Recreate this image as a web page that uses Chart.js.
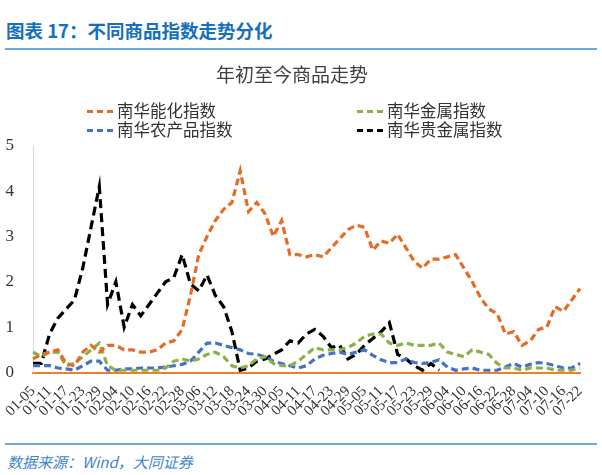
<!DOCTYPE html>
<html>
<head>
<meta charset="utf-8">
<script src="https://cdn.jsdelivr.net/npm/chart.js"></script>
<style>
  body { margin: 0; background: #fff; width: 602px; height: 475px; position: relative; overflow: hidden; }
  .head { position: absolute; left: 6px; top: 17px; font: bold 18.5px "Noto Sans CJK SC", sans-serif; color: #1670bd; }
  .rule { position: absolute; left: 5px; width: 592px; height: 2px; background: #6fa8dc; }
  .foot { position: absolute; left: 7px; top: 451px; font: italic 15px "Noto Sans CJK SC", sans-serif; color: #3f86c8; }
  #wrap { position: absolute; left: 0; top: 55px; width: 602px; height: 375px; }
  .lg { position: absolute; font: 16.5px "Noto Sans CJK SC", sans-serif; color: #333; line-height: 19px; }
  .lg i { display: inline-block; width: 26px; height: 0; border-top: 3px dashed; vertical-align: middle; margin-right: 4px; position: relative; top: -1px; }
</style>
</head>
<body>
<div class="head">图表 17：不同商品指数走势分化</div>
<div class="rule" style="top:48px"></div>
<div id="wrap"><canvas id="c"></canvas></div>
<div class="lg" style="left:87px;top:101px"><i style="border-color:#e46c24"></i>南华能化指数</div>
<div class="lg" style="left:357px;top:101px"><i style="border-color:#8db04b"></i>南华金属指数</div>
<div class="lg" style="left:87px;top:120px"><i style="border-color:#4472c4"></i>南华农产品指数</div>
<div class="lg" style="left:357px;top:120px"><i style="border-color:#000"></i>南华贵金属指数</div>
<div class="rule" style="top:443px"></div>
<div class="foot">数据来源：Wind，大同证券</div>
<script>
// 日期（每 3 天取一个点）
const dates = ['01-05','01-08','01-11','01-14','01-17','01-20','01-23','01-26','01-29',
  '02-01','02-04','02-07','02-10','02-13','02-16','02-19','02-22','02-25','02-28',
  '03-03','03-06','03-09','03-12','03-15','03-18','03-21','03-24','03-27','03-30',
  '04-02','04-05','04-08','04-11','04-14','04-17','04-20','04-23','04-26','04-29',
  '05-02','05-05','05-08','05-11','05-14','05-17','05-20','05-23','05-26','05-29',
  '06-01','06-04','06-07','06-10','06-13','06-16','06-19','06-22','06-25','06-28',
  '07-01','07-04','07-07','07-10','07-13','07-16','07-19','07-22'];

const energyChem = [0.3,0.4,0.45,0.5,0.2,0.15,0.45,0.6,0.45,0.6, 0.6,0.5,0.5,0.45,0.45,0.5,0.65,0.7,0.95,1.7,
  2.6,3.0,3.35,3.6,3.75,4.45,3.55,3.75,3.5,3.0, 3.35,2.6,2.6,2.55,2.6,2.55,2.75,2.95,3.15,3.25,
  3.2,2.7,2.9,2.85,3.05,2.75,2.45,2.3,2.5,2.5, 2.55,2.6,2.3,2.0,1.65,1.4,1.3,0.85,0.9,0.6,
  0.7,0.95,1.0,1.45,1.35,1.6,1.85];
const metals = [0.45,0.35,0.45,0.45,0.15,0.2,0.35,0.5,0.65,0.15, 0.05,0.05,0.05,0.05,0.05,0.05,0.1,0.25,0.3,0.25,
  0.3,0.4,0.45,0.35,0.15,0.1,0.15,0.3,0.35,0.2, 0.15,0.15,0.25,0.4,0.55,0.5,0.5,0.5,0.55,0.65,
  0.8,0.85,0.85,0.65,0.6,0.65,0.6,0.6,0.6,0.65, 0.45,0.4,0.35,0.5,0.45,0.4,0.2,0.1,0.1,0.05,
  0.1,0.1,0.1,0.05,0.05,0.05,0.1];
const agri = [0.15,0.15,0.15,0.1,0.08,0.05,0.15,0.25,0.25,0.05, 0.05,0.08,0.08,0.1,0.1,0.1,0.12,0.15,0.18,0.25,
  0.45,0.65,0.65,0.6,0.55,0.5,0.42,0.4,0.35,0.25, 0.2,0.15,0.1,0.15,0.3,0.38,0.42,0.45,0.4,0.45,
  0.5,0.38,0.28,0.22,0.22,0.3,0.22,0.2,0.22,0.28, 0.12,0.05,0.08,0.1,0.05,0.05,0.05,0.12,0.2,0.12,
  0.18,0.22,0.2,0.15,0.1,0.1,0.2];
const precious = [0.2,0.2,0.85,1.2,1.4,1.6,2.3,3.2,4.1,1.5, 2.0,1.0,1.5,1.25,1.5,1.75,2.0,2.1,2.6,1.95,
  1.8,2.15,1.7,1.45,0.9,0.05,0.1,0.25,0.3,0.4, 0.5,0.7,0.65,0.85,0.95,0.8,0.55,0.6,0.3,0.4,
  0.6,0.75,0.9,1.1,0.4,0.3,0.15,0.05,0.2,0.05];

const yTicks = [0, 1, 2, 3, 4, 5];

function line(label, data, color, dash) {
  return { label, data, borderColor: color, backgroundColor: color, borderWidth: 3.2,
    borderDash: dash, pointRadius: 0, tension: 0, fill: false };
}

new Chart(document.getElementById('c'), {
  type: 'line',
  data: {
    labels: dates,
    datasets: [
      line('南华能化指数', energyChem, '#e46c24', [7, 4]),
      line('南华金属指数', metals, '#8db04b', [7, 4]),
      line('南华农产品指数', agri, '#4472c4', [7, 4]),
      line('南华贵金属指数', precious, '#000000', [9, 5])
    ]
  },
  options: {
    responsive: true,
    maintainAspectRatio: false,
    animation: false,
    layout: { padding: { left: 4, right: 22, bottom: 8 } },
    plugins: {
      legend: { display: false },
      tooltip: { enabled: false },
      title: {
        display: true, text: '年初至今商品走势', color: '#404040',
        font: { family: 'Noto Sans CJK SC', size: 19, weight: 'normal' },
        padding: { top: 8, bottom: 60 }
      }
    },
    scales: {
      x: {
        grid: { display: false },
        border: { color: '#ed7d31', width: 2 },
        afterFit: s => { s.paddingLeft = 0; },
        ticks: {
          autoSkip: false, minRotation: 45, maxRotation: 45, padding: 2,
          color: '#333', font: { family: 'Liberation Serif', size: 15 },
          callback: (v, i) => (i % 2 === 0 ? dates[i] : '')
        }
      },
      y: {
        min: 0, max: 5,
        afterBuildTicks: s => { s.ticks = yTicks.map(v => ({ value: v })); },
        afterFit: s => { s.width = 29; },
        grid: { display: false, drawTicks: false },
        border: { color: '#d9d9d9', width: 1 },
        ticks: { padding: 19, color: '#333', font: { family: 'Liberation Serif', size: 17 } }
      }
    }
  }
});
</script>
</body>
</html>
